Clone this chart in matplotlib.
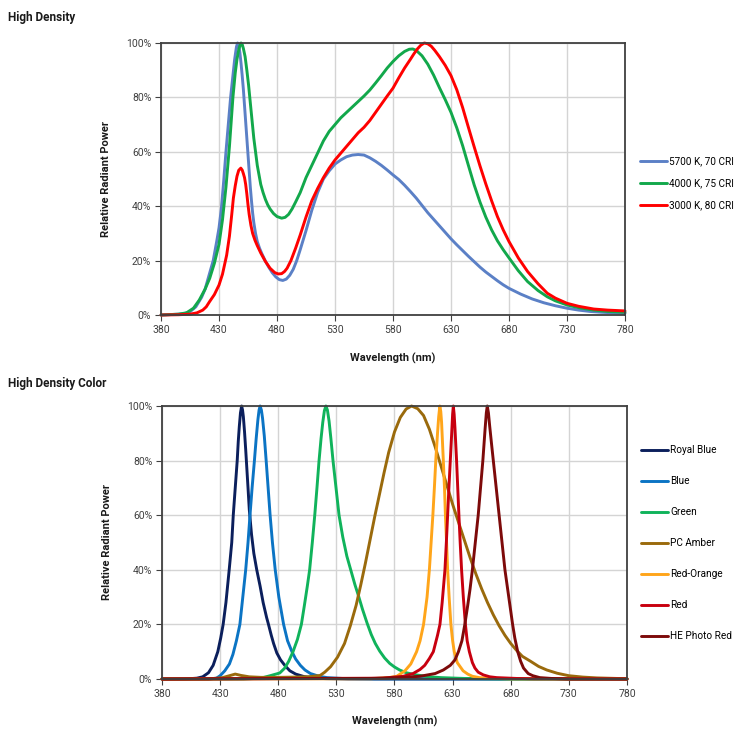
import numpy as np
import matplotlib
matplotlib.use("Agg")
import matplotlib.pyplot as plt
from matplotlib.ticker import FuncFormatter

plt.rcParams['font.family'] = ['Roboto', 'DejaVu Sans']

# ---- High Density (white) ----
wl_5700 = [380, 395, 400, 405, 410, 415, 418, 421, 425, 428, 430, 432, 434, 436, 438, 440, 442, 443.5,
           445, 446, 447, 448, 449, 450, 451, 452, 453, 454, 455, 456, 457, 458, 459, 460, 461.5, 463,
           465, 467, 470, 473, 476, 479, 482, 485, 488, 491, 494, 497, 500, 505, 510, 515, 520, 525,
           530, 535, 540, 545, 550, 555, 560, 565, 570, 575, 580, 585, 590, 595, 600, 605, 610, 615,
           620, 625, 630, 635, 640, 645, 650, 655, 660, 665, 670, 675, 680, 690, 700, 710, 720, 730,
           740, 750, 760, 770, 780]
rp_5700 = [0, 0.3, 0.5, 1.2, 3, 6.5, 9.5, 14, 20, 27, 32, 39, 49, 60, 70, 80, 88, 94,
           98.5, 100, 99, 96.5, 92.5, 88, 83, 77, 71, 65, 59, 53, 47, 42, 37.5, 34, 30, 27,
           24.5, 22.5, 19.8, 17.5, 15.5, 14, 13, 12.7, 13.2, 14.6, 16.8, 20, 24, 31, 38.5, 45, 50, 53,
           55.5, 57, 58.2, 58.8, 59, 58.8, 57.8, 56.5, 55, 53.3, 51.5, 49.8, 47.7, 45.4, 43, 40.3, 37.6, 35.2,
           32.8, 30.4, 28, 25.8, 23.7, 21.6, 19.6, 17.6, 15.8, 14.2, 12.6, 11.1, 9.8, 7.7, 5.9, 4.5, 3.4, 2.5,
           1.8, 1.3, 1.0, 0.8, 0.6]

wl_4000 = [380, 395, 402, 408, 413, 418, 422, 426, 430, 433, 436, 439, 442, 444, 445.5, 447, 448, 449,
           450, 451, 452.5, 454, 455.5, 457, 458.5, 460, 463, 466, 468, 470, 472, 474, 477, 480, 484,
           487, 490, 493, 496, 500, 505, 510, 515, 520, 525, 530, 535, 540, 545, 550, 555, 560, 565,
           570, 575, 580, 585, 590, 594, 597, 600, 605, 610, 615, 620, 625, 630, 635, 640, 645, 650,
           655, 660, 665, 670, 675, 680, 688, 696, 705, 713, 720, 730, 740, 753, 765, 780]
rp_4000 = [0, 0.3, 0.8, 2.5, 5.5, 9.5, 13.5, 19, 26, 35, 47, 62, 80, 89, 94, 97.5, 99, 100,
           99.5, 98, 95, 90, 84.5, 78, 71.5, 65, 55, 48, 45, 42.5, 40.5, 39, 37.3, 36.2, 35.6,
           35.9, 37, 39, 41.5, 45, 50.5, 55, 59.5, 64, 67.5, 70, 72.5, 74.5, 76.5, 78.5, 80.5, 82.7, 85.3,
           88, 90.8, 93.2, 95.3, 96.9, 97.7, 97.8, 97.3, 95.3, 92.2, 88.2, 83.6, 79.2, 74.5, 68.8, 62.3, 55, 47.8,
           41.5, 36, 31.3, 27.3, 24, 21, 16.3, 12.3, 9, 6.7, 5.2, 3.7, 2.7, 1.8, 1.3, 1.0]

wl_3000 = [380, 395, 405, 411, 416, 419, 422, 426, 430, 433, 436.6, 439, 441, 442.4, 444, 445.5, 447,
           448.8, 450, 451, 452, 453, 454, 455, 456, 457.5, 459, 461, 463, 466, 470, 474, 478, 481,
           484, 486.5, 488.7, 492, 496, 500, 505, 510, 515, 520, 525, 530, 535, 540, 545, 550, 555, 560,
           565, 570, 575, 580, 585, 590, 595, 598, 601, 604, 607, 610, 613, 616, 620, 625, 630, 635,
           640, 645, 650, 655, 660, 665, 670, 675, 680, 688, 696, 705, 713, 720, 730, 740, 753, 765, 780]
rp_3000 = [0, 0.1, 0.3, 0.8, 1.8, 3, 5, 7.5, 11, 15, 22, 29, 37, 43, 47.5, 51, 53.2,
           54, 53.3, 52, 50.5, 48, 44.5, 40.5, 37, 33, 30, 27.5, 25.5, 22.8, 19.7, 17.2, 15.6, 15.1,
           15.2, 16, 17.2, 20, 24.5, 29.4, 36, 42, 46.5, 50.5, 54, 57, 59.5, 62, 64.5, 67, 69, 71.5,
           74.5, 77.5, 80.5, 83.4, 87.2, 90.8, 94, 96, 97.8, 99.2, 100, 99.7, 98.8, 97.3, 95, 91.8, 88, 82.8,
           76.3, 69, 61.8, 54.8, 48.2, 42, 36.2, 31.3, 27, 21, 16, 11.5, 8, 6.2, 4.3, 3.2, 2.2, 1.8, 1.5]

# ---- High Density Color ----
wl_royal = [380, 400, 410, 415, 420, 424, 428, 430.5, 432.6, 435, 437.8, 440, 441.3, 443, 444.7, 445.6,
            446.5, 447.5, 448.5, 449.3, 450, 451, 452, 453, 454, 455.1, 457, 459, 461.5, 464.4, 467,
            470, 471.6, 474, 476, 478.8, 482, 486, 490, 495, 502, 510, 520, 540, 780]
rp_royal = [0, 0, 0.3, 0.8, 2.3, 5, 10, 15, 20, 28, 40, 50, 60, 70, 80, 87,
            92.5, 97.5, 100, 98.5, 96, 90.5, 84, 77, 70, 62, 53, 46, 40, 34, 28,
            22.5, 20, 16, 13, 9.5, 7, 4.8, 3, 1.8, 0.9, 0.4, 0.15, 0, 0]

wl_blue = [380, 420, 426.8, 430, 434, 438, 441, 444, 447, 449.5, 452, 454, 455.7, 457.5, 459.5, 461,
           462.5, 463.5, 464.4, 465.5, 466.5, 468, 469.6, 471.3, 473, 475, 477.4, 480.5, 484.6, 488,
           491.8, 495, 499, 503, 507.7, 515, 522, 535, 560, 780]
rp_blue = [0, 0, 0.3, 1.2, 3, 5.5, 9, 14, 20, 30, 40, 50, 60, 70, 80, 88,
           95, 98.5, 100, 98.5, 95.5, 89, 80, 70, 60, 50, 40, 30, 20, 14,
           10, 7.3, 5, 3.3, 2, 1, 0.5, 0.2, 0.05, 0]

wl_green = [380, 450, 465, 473, 478, 481.3, 485.6, 489, 492.7, 496.5, 499.9, 502.5, 505, 507, 509.3,
            511.4, 513.3, 515.1, 516.8, 518.3, 519.7, 521, 522.3, 523.7, 525.3, 527.1, 529.7, 532.3,
            535.5, 539, 543, 546, 549, 552.5, 556.4, 560, 563.5, 567.3, 571.5, 575.9, 580, 584.4,
            590, 598.8, 610, 620, 640, 680, 780]
rp_green = [0, 0, 0.3, 1.2, 1.8, 2.2, 4, 6.5, 10, 14.5, 20, 27, 34, 40, 50,
            60, 70, 80, 88, 94, 98.3, 100, 98.5, 94.5, 88, 80, 70, 60,
            52, 45, 39, 34.5, 30.5, 25.5, 20.5, 16.3, 13, 10.2, 7.7, 5.7, 4.4, 3.3,
            2.3, 1.5, 0.8, 0.5, 0.2, 0, 0]

wl_amber = [380, 420, 432, 438, 443, 448, 455, 465, 480, 495, 505, 510, 516, 520, 525, 531, 537, 542,
            547, 551, 555, 559, 563, 567, 571, 575, 580, 585, 590, 594.7, 600, 605, 610, 615,
            620, 625, 630, 635, 640, 645, 650, 655, 660, 665, 670, 675, 680, 685, 690, 697, 704, 711,
            720, 730, 742, 754, 780]
rp_amber = [0, 0, 0.5, 1.2, 1.8, 1.3, 0.8, 0.6, 0.6, 0.7, 0.8, 1.0, 1.3, 2.5, 4.5, 8, 13, 19.5,
            27, 34.5, 42.5, 51, 59.5, 67.5, 75.5, 83, 90.5, 95.8, 98.9, 100, 99, 96.5, 91.5, 85,
            78, 71, 64, 57.5, 51, 44.5, 38.5, 33, 28, 23.5, 19.5, 16, 13, 10.5, 8.3, 6.5, 4.6, 3.3,
            2.1, 1.2, 0.7, 0.4, 0.1]

wl_redorange = [380, 560, 575, 582, 589, 594, 599, 602, 605, 608, 610, 611.5, 613, 614.3, 615.5, 617,
                618, 619, 619.8, 620.5, 622, 623, 623.8, 624.8, 625.7, 627, 628.5, 630, 631.4, 634,
                639, 643, 647, 653, 660, 680, 780]
rp_redorange = [0, 0.1, 0.5, 1, 3, 5.5, 10, 14, 20, 30, 40, 50, 60, 70, 80, 90,
                96, 100, 98, 94, 80, 70, 60, 50, 40, 30, 20, 14, 10, 6,
                3, 1.8, 1, 0.5, 0.3, 0.05, 0]

wl_red = [380, 570, 580, 587.6, 596, 602, 606, 610, 613.4, 617, 619.1, 621, 623.4, 624.6, 625.7, 626.8,
          628, 629.2, 630, 630.6, 631.3, 632, 633.4, 634.4, 635.4, 636.5, 637.7, 639.2, 641, 642.5,
          644.4, 647, 649.2, 652, 656.4, 662, 668, 685, 700, 780]
rp_red = [0, 0.3, 0.7, 1, 2, 3.5, 5, 7.5, 10, 16, 20, 28, 40, 50, 60, 70,
          80, 90, 97, 100, 97, 92, 80, 70, 60, 50, 40, 30, 20, 14,
          10, 6, 4, 2.5, 1.5, 0.8, 0.5, 0.2, 0.1, 0]

wl_hered = [380, 560, 584.7, 602, 615, 622, 628, 632, 635, 638, 640.5, 643, 645, 647, 649.5, 652, 654,
            656, 658, 659, 659.8, 660.8, 661.8, 663.5, 665, 667.5, 670, 672.5, 675, 678.3, 681.6, 683.5,
            686, 688.5, 691, 695, 699, 705, 715, 730, 780]
rp_hered = [0, 0.2, 0.5, 1, 2, 3.3, 5, 7, 10, 14, 20, 27, 33, 40, 50, 60, 70,
            80, 92, 97.5, 100, 97.5, 93, 86, 80, 70, 60, 50, 40, 30, 20, 15,
            10, 6.5, 4, 2, 1.2, 0.5, 0.2, 0, 0]

white_series = [
    (wl_5700, rp_5700, "5700 K, 70 CRI", "#5B80C6"),
    (wl_4000, rp_4000, "4000 K, 75 CRI", "#12A84B"),
    (wl_3000, rp_3000, "3000 K, 80 CRI", "#FF0000"),
]
color_series = [
    (wl_royal, rp_royal, "Royal Blue", "#0B1F5C"),
    (wl_blue, rp_blue, "Blue", "#0B74C4"),
    (wl_green, rp_green, "Green", "#10B35B"),
    (wl_amber, rp_amber, "PC Amber", "#9A6A0C"),
    (wl_redorange, rp_redorange, "Red-Orange", "#FFA51A"),
    (wl_red, rp_red, "Red", "#C8000F"),
    (wl_hered, rp_hered, "HE Photo Red", "#7D0A0A"),
]

fig = plt.figure(figsize=(7.5, 7.47), dpi=100)
ax1 = fig.add_axes([161/750, 1 - 315/747, 464/750, 272/747])
ax2 = fig.add_axes([162/750, 1 - 679/747, 465/750, 273/747])


def style(ax):
    ax.set_xlim(380, 780)
    ax.set_ylim(0, 100)
    ax.set_xticks(np.arange(380, 781, 50))
    ax.set_yticks(np.arange(0, 101, 20))
    ax.yaxis.set_major_formatter(FuncFormatter(lambda v, p: "%d%%" % v))
    ax.grid(True, color="#D4D4D4", linewidth=1)
    ax.set_axisbelow(True)
    for s in ax.spines.values():
        s.set_color("#404040")
        s.set_linewidth(1.3)
    ax.tick_params(labelsize=7.5, colors="#404040", length=4, width=0.8, pad=3)
    ax.set_xlabel("Wavelength (nm)", fontsize=8, fontweight="bold", color="#1a1a1a")
    ax.set_ylabel("Relative Radiant Power", fontsize=8, fontweight="bold", color="#1a1a1a")
    ax.yaxis.set_label_coords(-0.108, 0.5)


for wl, rp, name, c in white_series:
    ax1.plot(wl, rp, color=c, linewidth=2.1, label=name, clip_on=False,
             solid_joinstyle="round", solid_capstyle="round")
style(ax1)
ax1.xaxis.set_label_coords(0.5, -0.14)
ax1.legend(loc="center left", bbox_to_anchor=(1.032, 0.485), frameon=False, fontsize=7.2,
           handlelength=2.7, handletextpad=0.2, labelspacing=1.2, borderpad=0, borderaxespad=0)

for wl, rp, name, c in color_series:
    ax2.plot(wl, rp, color=c, linewidth=2.1, label=name, clip_on=False,
             solid_joinstyle="round", solid_capstyle="round")
style(ax2)
ax2.xaxis.set_label_coords(0.5, -0.136)
ax2.legend(loc="center left", bbox_to_anchor=(1.03, 0.498), frameon=False, fontsize=7.2,
           handlelength=2.7, handletextpad=0.2, labelspacing=2.1, borderpad=0, borderaxespad=0)

fig.text(8/750, 1 - 17/747, "High Density", fontsize=8.5, fontweight="bold", color="#1a1a1a", va="center")
fig.text(8/750, 1 - 383/747, "High Density Color", fontsize=8.5, fontweight="bold", color="#1a1a1a", va="center")

fig.savefig("out.png", dpi=100, facecolor="white")
